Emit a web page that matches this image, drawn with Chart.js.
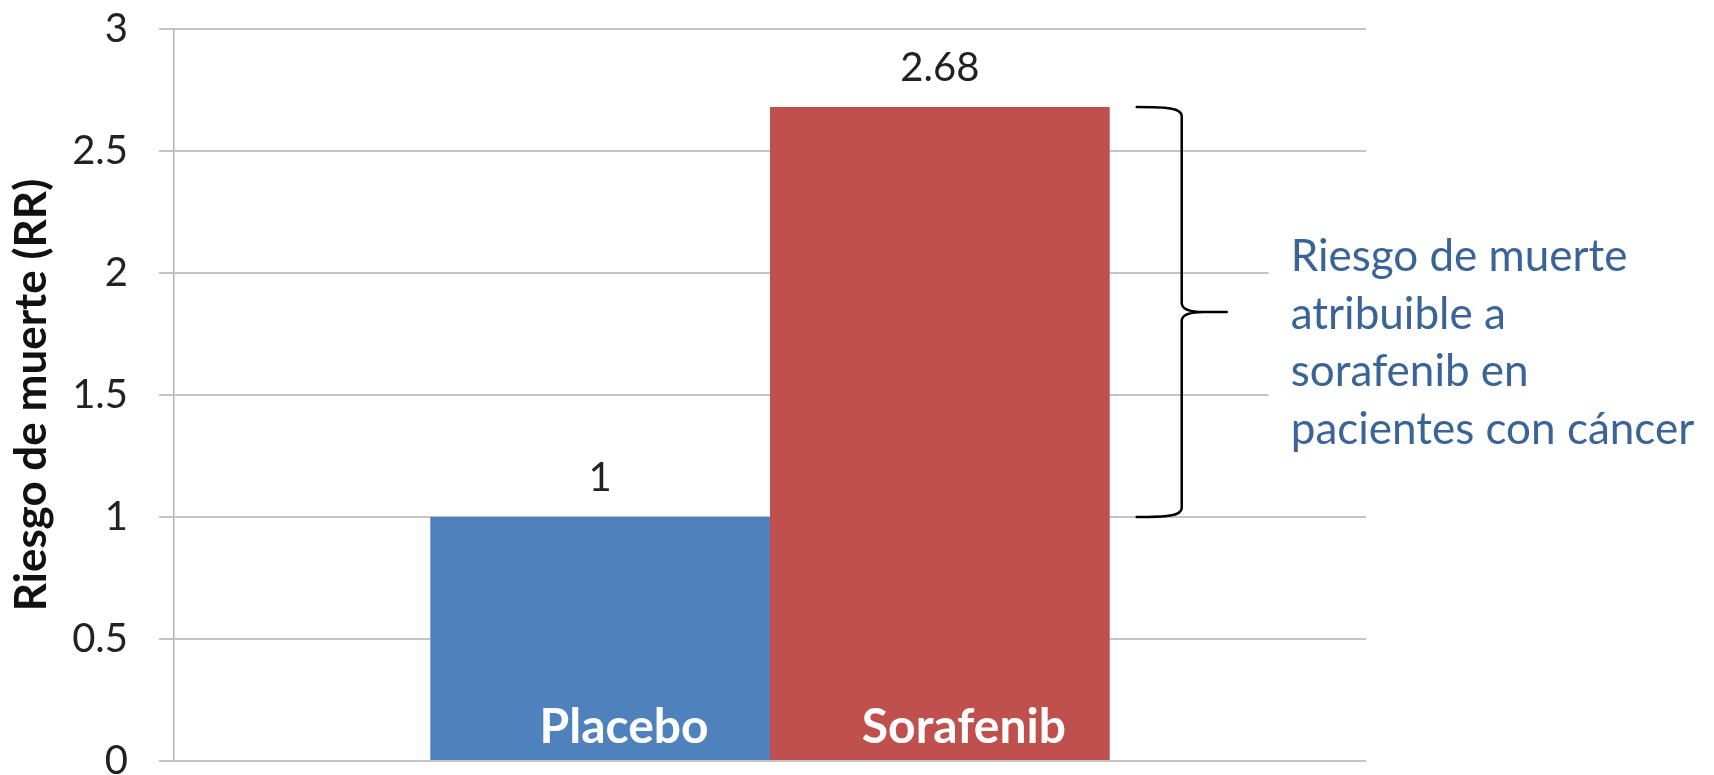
<!DOCTYPE html>
<html>
<head>
<meta charset="utf-8">
<title>Riesgo de muerte (RR)</title>
<script src="https://cdn.jsdelivr.net/npm/chart.js@4.4.1/dist/chart.umd.min.js"></script>
<style>
  html, body { margin: 0; padding: 0; background: #ffffff; }
  #wrap { width: 1714px; height: 775px; }
</style>
</head>
<body>
<div id="wrap"><canvas id="rr" width="1714" height="775"></canvas></div>
<script>
// Data
const categories = [''];
const seriesNames = ['Placebo', 'Sorafenib'];
const seriesValues = [1, 2.68];
const valueLabels = ['1', '2.68'];
const yTickValues = [0, 0.5, 1, 1.5, 2, 2.5, 3];
const yTickLabels = ['0', '0.5', '1', '1.5', '2', '2.5', '3'];
const yAxisTitle = 'Riesgo de muerte (RR)';
const noteLines = ['Riesgo de muerte', 'atribuible a', 'sorafenib en', 'pacientes con cáncer'];

const FONT = 'Lato, "DejaVu Sans", sans-serif';
const barColors = ['#4F81BD', '#C0504D'];

// Value labels above bars, series names inside bars, brace and note
const decorations = {
  id: 'decorations',
  beforeDraw(chart) {
    const ctx = chart.ctx;
    ctx.save();
    ctx.fillStyle = '#ffffff';
    ctx.fillRect(0, 0, chart.width, chart.height);
    ctx.restore();
  },
  afterDatasetsDraw(chart) {
    const ctx = chart.ctx;
    const area = chart.chartArea;
    ctx.save();
    chart.data.datasets.forEach((ds, i) => {
      const bar = chart.getDatasetMeta(i).data[0];
      // value above the bar
      ctx.fillStyle = '#222222';
      ctx.font = '40px ' + FONT;
      ctx.textAlign = 'center';
      ctx.textBaseline = 'middle';
      ctx.fillText(valueLabels[i], bar.x, bar.y - 39);
      // series name inside the bar, near its base
      ctx.fillStyle = '#ffffff';
      ctx.font = 'bold 48px ' + FONT;
      ctx.textBaseline = 'alphabetic';
      ctx.fillText(ds.label, bar.x + 24, area.bottom - 18);
    });
    ctx.restore();
  },
  afterDraw(chart) {
    const ctx = chart.ctx;
    const y = chart.scales.y;
    const hi = chart.getDatasetMeta(1).data[0];
    const barRight = hi.x + hi.width / 2;
    const yTop = y.getPixelForValue(seriesValues[1]);
    const yBot = y.getPixelForValue(seriesValues[0]);
    const yMid = (yTop + yBot) / 2;
    const x0 = barRight + 27;   // arm ends
    const xv = barRight + 72;   // vertical stroke
    const xt = barRight + 117;  // tip
    ctx.save();
    // curly brace spanning the difference between the two bars
    ctx.strokeStyle = '#000000';
    ctx.lineWidth = 2.5;
    ctx.lineCap = 'round';
    ctx.lineJoin = 'round';
    ctx.beginPath();
    ctx.moveTo(x0, yTop);
    ctx.bezierCurveTo(x0 + 30, yTop, xv, yTop + 1, xv, yTop + 9);
    ctx.lineTo(xv, yMid - 9);
    ctx.quadraticCurveTo(xv, yMid, xv + 22, yMid);
    ctx.lineTo(xt, yMid);
    ctx.moveTo(xv + 22, yMid);
    ctx.quadraticCurveTo(xv, yMid, xv, yMid + 9);
    ctx.lineTo(xv, yBot - 9);
    ctx.bezierCurveTo(xv, yBot - 1, x0 + 30, yBot, x0, yBot);
    ctx.stroke();

    // note text on a white box
    const tx = xt + 64;
    ctx.fillStyle = '#ffffff';
    ctx.fillRect(tx - 22, yMid - 90, chart.width - (tx - 22), 240);
    ctx.fillStyle = '#3A6497';
    ctx.font = '44px ' + FONT;
    ctx.textAlign = 'left';
    ctx.textBaseline = 'alphabetic';
    noteLines.forEach((line, k) => {
      ctx.fillText(line, tx, yMid - 41 + k * 57.5);
    });
    ctx.restore();
  }
};

new Chart(document.getElementById('rr'), {
  type: 'bar',
  data: {
    labels: categories,
    datasets: seriesNames.map((name, i) => ({
      label: name,
      data: [seriesValues[i]],
      backgroundColor: barColors[i],
      borderWidth: 0,
      categoryPercentage: 0.57,
      barPercentage: 1.0
    }))
  },
  options: {
    responsive: false,
    devicePixelRatio: 1,
    animation: false,
    layout: { padding: { left: 0, right: 348, top: 29, bottom: 14 } },
    plugins: {
      legend: { display: false },
      tooltip: { enabled: false }
    },
    scales: {
      x: { display: false },
      y: {
        min: 0,
        max: 3,
        afterBuildTicks(scale) {
          scale.ticks = yTickValues.map(v => ({ value: v }));
        },
        afterFit(scale) {
          scale.width = 174;
          // the layout padding already leaves room for the end labels
          scale.paddingTop = 0;
          scale.paddingBottom = 0;
        },
        ticks: {
          padding: 31,
          color: '#222222',
          font: { family: FONT, size: 40 },
          callback: (v) => yTickLabels[yTickValues.indexOf(v)]
        },
        grid: {
          color: '#c4c4c4',
          lineWidth: 2,
          tickLength: 15,
          drawTicks: true
        },
        border: { display: true, color: '#b4b4b4', width: 1.5 },
        title: {
          display: true,
          text: yAxisTitle,
          color: '#111111',
          font: { family: FONT, size: 44, weight: 'bold' },
          padding: { top: 5, bottom: 0 }
        }
      }
    }
  },
  plugins: [decorations]
});
</script>
</body>
</html>
